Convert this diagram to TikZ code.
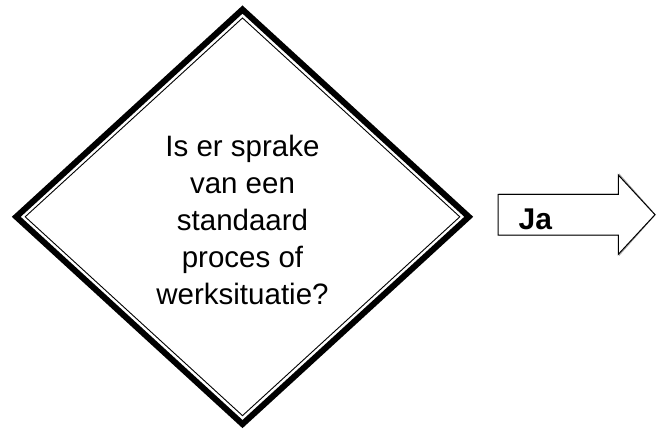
\documentclass[tikz,border=0pt]{standalone}
\usepackage{fontspec}
\setmainfont{Liberation Sans}
\usetikzlibrary{shapes.geometric}

\begin{document}
\begin{tikzpicture}[x=1pt, y=-1pt,
    question/.style={diamond, draw, line width=6pt, inner sep=0pt,
                     minimum width=455pt, minimum height=417pt},
    innerline/.style={diamond, draw, line width=.9pt, inner sep=0pt,
                      minimum width=435pt, minimum height=398pt},
    answer/.style={font=\bfseries\fontsize{30}{32}\selectfont, inner sep=0pt, anchor=base west}]
  \useasboundingbox (0,0) rectangle (656,429);

  \node[question] (q) at (242.5,216.8) {};
  \node[innerline] (qin) at (q.center) {};
  \node[align=center, font=\fontsize{29.5}{37}\selectfont] (qtext) at (242.5,220)
    {Is er sprake\\van een\\standaard\\proces of\\werksituatie?};

  % block arrow with a grey shadow
  \coordinate (tail) at (498,214.7);
  \coordinate (tip) at (655,214.7);
  \draw[gray!70, line width=1.2pt, xshift=1.5pt] (498,194.3) -- (618.3,194.3) -- (618.3,175) -- (tip)
      -- (618.3,254.3) -- (618.3,235) -- (498,235) -- cycle;
  \draw[line width=1pt, fill=white] (498,194.3) -- (618.3,194.3) -- (618.3,175) -- (tip)
      -- (618.3,254.3) -- (618.3,235) -- (498,235) -- cycle;
  \node[answer] (ja) at (518.5,229.5) {Ja};
\end{tikzpicture}
\end{document}
